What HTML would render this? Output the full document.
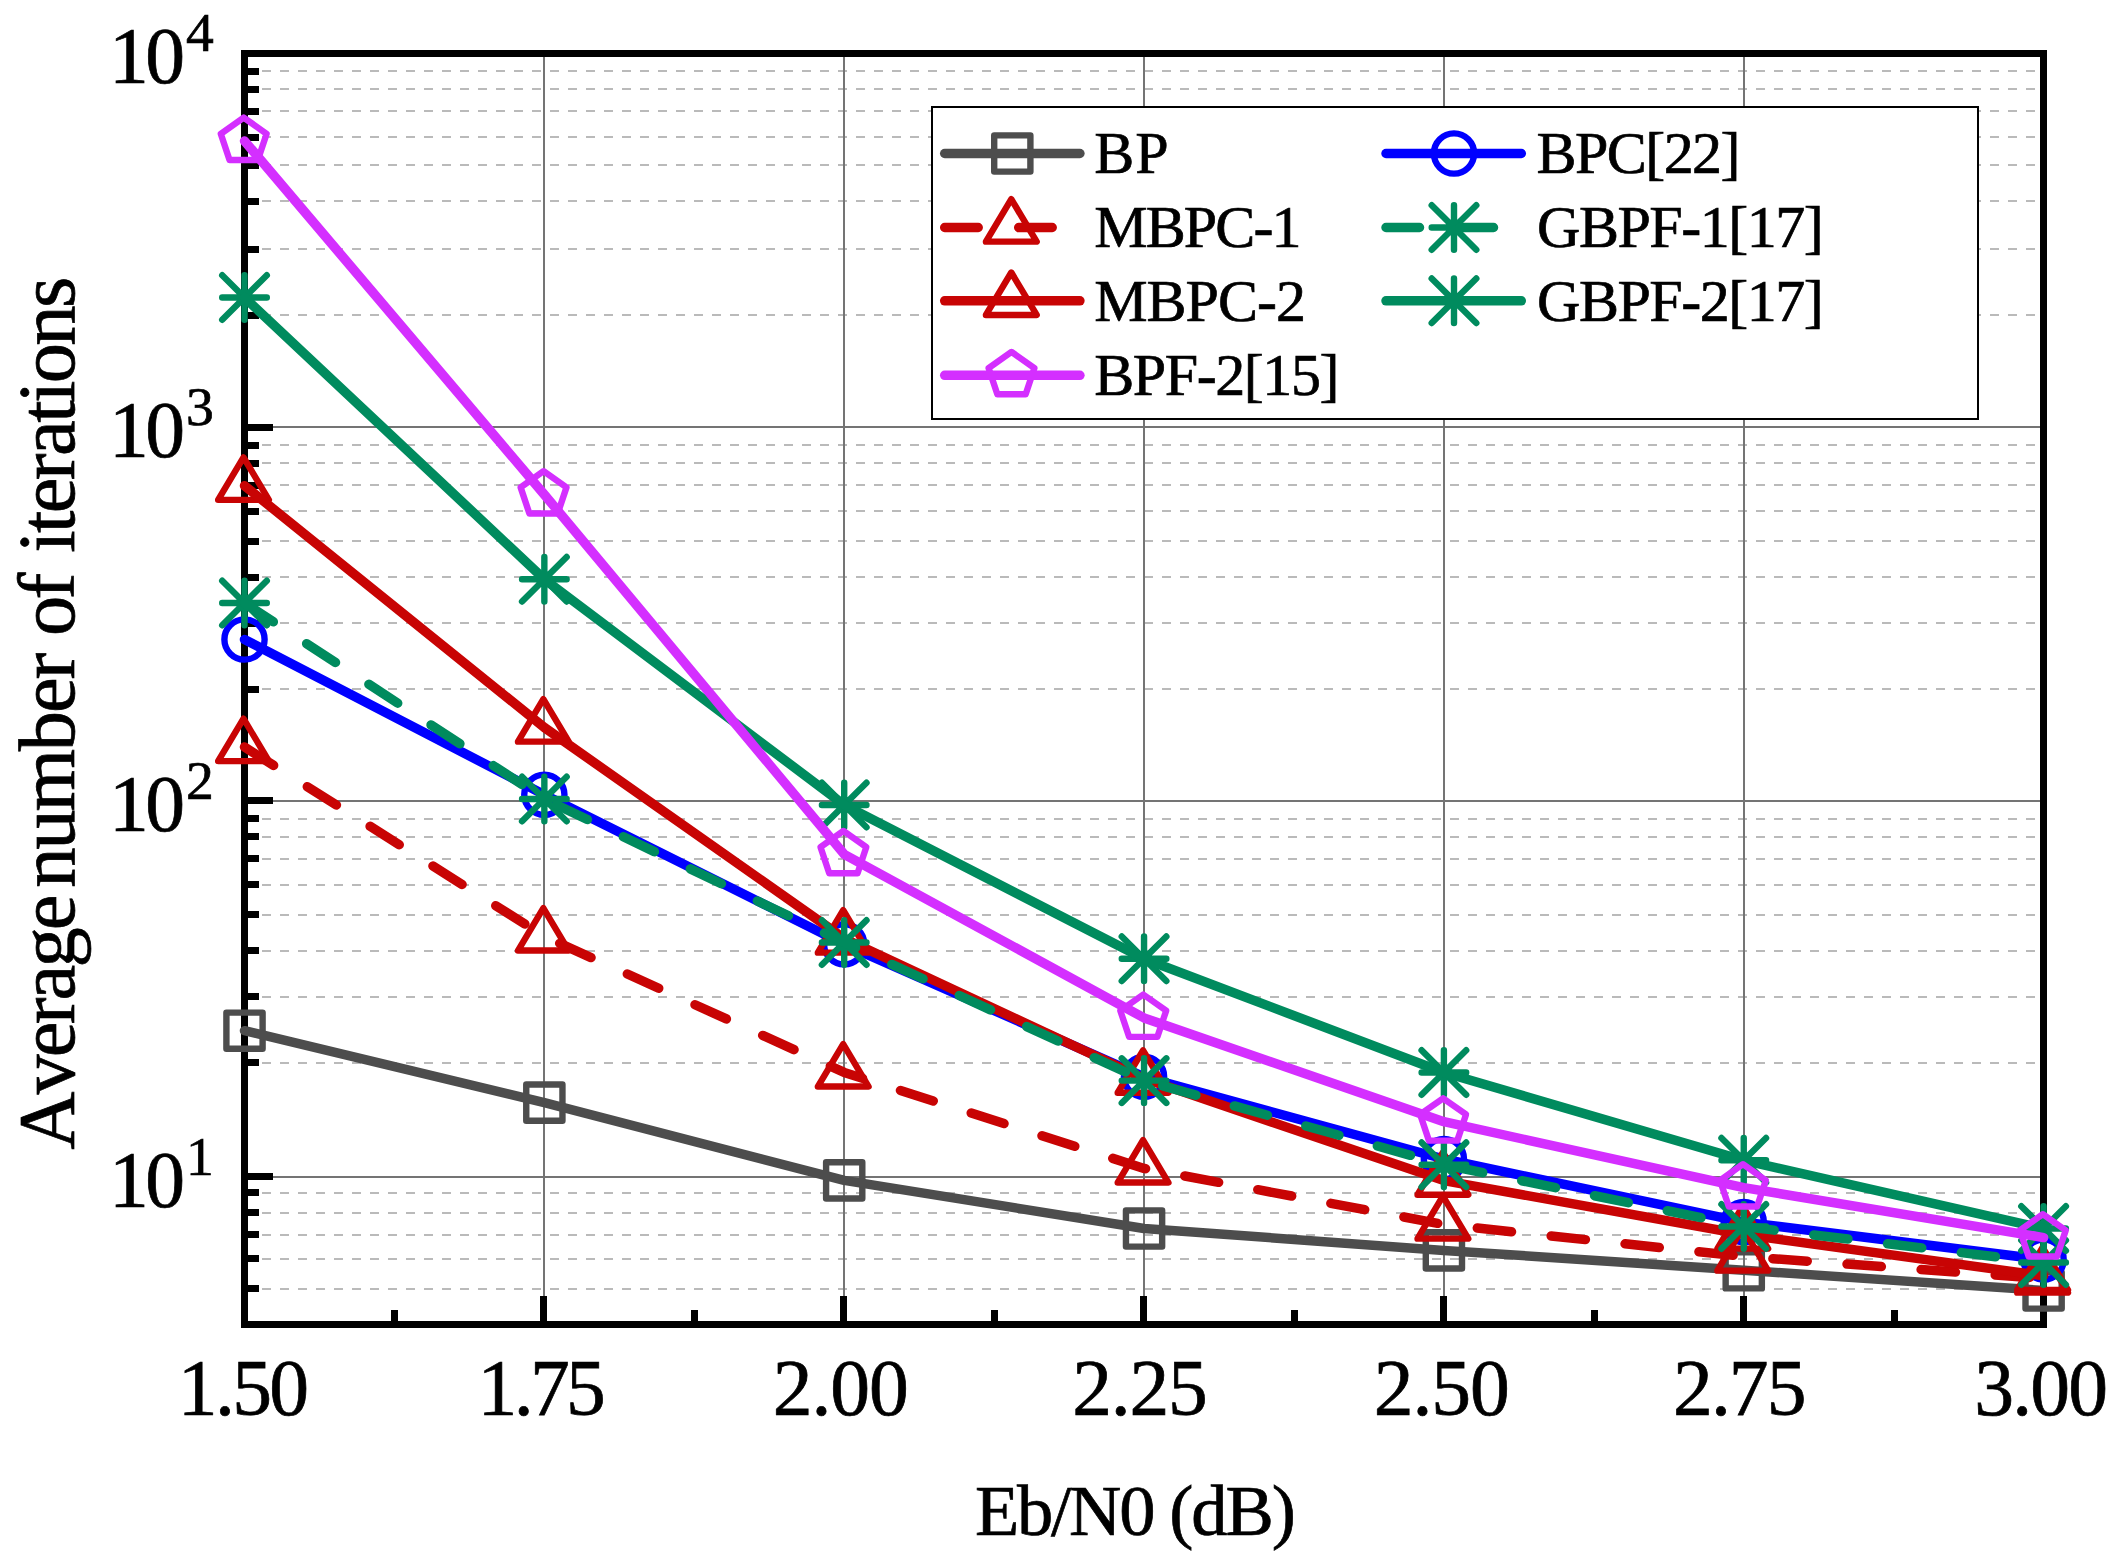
<!DOCTYPE html>
<html lang="en"><head><meta charset="utf-8"><title>Average number of iterations vs Eb/N0</title>
<style>html,body{margin:0;padding:0;background:#fff}body{width:2117px;height:1565px;overflow:hidden}svg{display:block}text{font-family:'Liberation Serif', serif;fill:#000;font-kerning:none;white-space:pre}</style></head><body>
<svg width="2117" height="1565" viewBox="0 0 2117 1565">
<rect width="2117" height="1565" fill="#fff"/>
<g stroke="#bababa" stroke-width="2" stroke-dasharray="9 9" shape-rendering="crispEdges">
<line x1="244" y1="71" x2="2043.5" y2="71"/>
<line x1="244" y1="89" x2="2043.5" y2="89"/>
<line x1="244" y1="111" x2="2043.5" y2="111"/>
<line x1="244" y1="137" x2="2043.5" y2="137"/>
<line x1="244" y1="165" x2="2043.5" y2="165"/>
<line x1="244" y1="201" x2="2043.5" y2="201"/>
<line x1="244" y1="249" x2="2043.5" y2="249"/>
<line x1="244" y1="315" x2="2043.5" y2="315"/>
<line x1="244" y1="445" x2="2043.5" y2="445"/>
<line x1="244" y1="463" x2="2043.5" y2="463"/>
<line x1="244" y1="485" x2="2043.5" y2="485"/>
<line x1="244" y1="511" x2="2043.5" y2="511"/>
<line x1="244" y1="541" x2="2043.5" y2="541"/>
<line x1="244" y1="577" x2="2043.5" y2="577"/>
<line x1="244" y1="623" x2="2043.5" y2="623"/>
<line x1="244" y1="689" x2="2043.5" y2="689"/>
<line x1="244" y1="819" x2="2043.5" y2="819"/>
<line x1="244" y1="837" x2="2043.5" y2="837"/>
<line x1="244" y1="859" x2="2043.5" y2="859"/>
<line x1="244" y1="885" x2="2043.5" y2="885"/>
<line x1="244" y1="915" x2="2043.5" y2="915"/>
<line x1="244" y1="951" x2="2043.5" y2="951"/>
<line x1="244" y1="997" x2="2043.5" y2="997"/>
<line x1="244" y1="1063" x2="2043.5" y2="1063"/>
<line x1="244" y1="1193" x2="2043.5" y2="1193"/>
<line x1="244" y1="1213" x2="2043.5" y2="1213"/>
<line x1="244" y1="1235" x2="2043.5" y2="1235"/>
<line x1="244" y1="1259" x2="2043.5" y2="1259"/>
<line x1="244" y1="1289" x2="2043.5" y2="1289"/>
</g>
<g stroke="#747474" stroke-width="2" shape-rendering="crispEdges">
<line x1="244" y1="427" x2="2043.5" y2="427"/>
<line x1="244" y1="801" x2="2043.5" y2="801"/>
<line x1="244" y1="1177" x2="2043.5" y2="1177"/>
<line x1="544" y1="53.5" x2="544" y2="1324.5"/>
<line x1="844" y1="53.5" x2="844" y2="1324.5"/>
<line x1="1144" y1="53.5" x2="1144" y2="1324.5"/>
<line x1="1444" y1="53.5" x2="1444" y2="1324.5"/>
<line x1="1744" y1="53.5" x2="1744" y2="1324.5"/>
</g>
<g stroke="#000" stroke-width="7" fill="none" shape-rendering="crispEdges">
<rect x="244.5" y="53.5" width="1799" height="1271"/>
<line x1="244.5" y1="427.5" x2="273" y2="427.5"/>
<line x1="244.5" y1="800.5" x2="273" y2="800.5"/>
<line x1="244.5" y1="1176.5" x2="273" y2="1176.5"/>
<line x1="244.5" y1="71.5" x2="259" y2="71.5"/>
<line x1="244.5" y1="89.5" x2="259" y2="89.5"/>
<line x1="244.5" y1="111.5" x2="259" y2="111.5"/>
<line x1="244.5" y1="137.5" x2="259" y2="137.5"/>
<line x1="244.5" y1="165.5" x2="259" y2="165.5"/>
<line x1="244.5" y1="201.5" x2="259" y2="201.5"/>
<line x1="244.5" y1="249.5" x2="259" y2="249.5"/>
<line x1="244.5" y1="315.5" x2="259" y2="315.5"/>
<line x1="244.5" y1="445.5" x2="259" y2="445.5"/>
<line x1="244.5" y1="463.5" x2="259" y2="463.5"/>
<line x1="244.5" y1="485.5" x2="259" y2="485.5"/>
<line x1="244.5" y1="511.5" x2="259" y2="511.5"/>
<line x1="244.5" y1="541.5" x2="259" y2="541.5"/>
<line x1="244.5" y1="577.5" x2="259" y2="577.5"/>
<line x1="244.5" y1="623.5" x2="259" y2="623.5"/>
<line x1="244.5" y1="689.5" x2="259" y2="689.5"/>
<line x1="244.5" y1="818.5" x2="259" y2="818.5"/>
<line x1="244.5" y1="836.5" x2="259" y2="836.5"/>
<line x1="244.5" y1="858.5" x2="259" y2="858.5"/>
<line x1="244.5" y1="884.5" x2="259" y2="884.5"/>
<line x1="244.5" y1="914.5" x2="259" y2="914.5"/>
<line x1="244.5" y1="950.5" x2="259" y2="950.5"/>
<line x1="244.5" y1="996.5" x2="259" y2="996.5"/>
<line x1="244.5" y1="1062.5" x2="259" y2="1062.5"/>
<line x1="244.5" y1="1192.5" x2="259" y2="1192.5"/>
<line x1="244.5" y1="1212.5" x2="259" y2="1212.5"/>
<line x1="244.5" y1="1234.5" x2="259" y2="1234.5"/>
<line x1="244.5" y1="1258.5" x2="259" y2="1258.5"/>
<line x1="244.5" y1="1288.5" x2="259" y2="1288.5"/>
<line x1="543.5" y1="1296" x2="543.5" y2="1324.5"/>
<line x1="843.5" y1="1296" x2="843.5" y2="1324.5"/>
<line x1="1143.5" y1="1296" x2="1143.5" y2="1324.5"/>
<line x1="1443.5" y1="1296" x2="1443.5" y2="1324.5"/>
<line x1="1743.5" y1="1296" x2="1743.5" y2="1324.5"/>
<line x1="394.5" y1="1310" x2="394.5" y2="1324.5"/>
<line x1="694.5" y1="1310" x2="694.5" y2="1324.5"/>
<line x1="994.5" y1="1310" x2="994.5" y2="1324.5"/>
<line x1="1294.5" y1="1310" x2="1294.5" y2="1324.5"/>
<line x1="1594.5" y1="1310" x2="1594.5" y2="1324.5"/>
<line x1="1894.5" y1="1310" x2="1894.5" y2="1324.5"/>
</g>
<rect x="932" y="107" width="1046" height="312" fill="#fff" stroke="#000" stroke-width="2" shape-rendering="crispEdges"/>
<g>
<rect x="226.4" y="1012.6" width="36.2" height="36.2" fill="none" stroke="#4d4d4d" stroke-width="6.4" stroke-linejoin="round" stroke-linecap="round"/>
<rect x="526.25" y="1084.5" width="36.2" height="36.2" fill="none" stroke="#4d4d4d" stroke-width="6.4" stroke-linejoin="round" stroke-linecap="round"/>
<rect x="826.1" y="1162.3" width="36.2" height="36.2" fill="none" stroke="#4d4d4d" stroke-width="6.4" stroke-linejoin="round" stroke-linecap="round"/>
<rect x="1125.95" y="1210.4" width="36.2" height="36.2" fill="none" stroke="#4d4d4d" stroke-width="6.4" stroke-linejoin="round" stroke-linecap="round"/>
<rect x="1425.8" y="1232.3" width="36.2" height="36.2" fill="none" stroke="#4d4d4d" stroke-width="6.4" stroke-linejoin="round" stroke-linecap="round"/>
<rect x="1725.65" y="1252.2" width="36.2" height="36.2" fill="none" stroke="#4d4d4d" stroke-width="6.4" stroke-linejoin="round" stroke-linecap="round"/>
<rect x="2025.5" y="1272.4" width="36.2" height="36.2" fill="none" stroke="#4d4d4d" stroke-width="6.4" stroke-linejoin="round" stroke-linecap="round"/>
<polyline points="244.5,1030.7 544.35,1102.6 844.2,1180.4 1144.05,1228.5 1443.9,1250.4 1743.75,1270.3 2043.6,1290.5" fill="none" stroke="#4d4d4d" stroke-width="9.5" stroke-linecap="round" stroke-linejoin="round"/>
</g>
<g>
<circle cx="244.5" cy="639.5" r="20.1" fill="none" stroke="#0000ff" stroke-width="6.4" stroke-linejoin="round" stroke-linecap="round"/>
<circle cx="544.35" cy="794.7" r="20.1" fill="none" stroke="#0000ff" stroke-width="6.4" stroke-linejoin="round" stroke-linecap="round"/>
<circle cx="844.2" cy="944.3" r="20.1" fill="none" stroke="#0000ff" stroke-width="6.4" stroke-linejoin="round" stroke-linecap="round"/>
<circle cx="1144.05" cy="1076.8" r="20.1" fill="none" stroke="#0000ff" stroke-width="6.4" stroke-linejoin="round" stroke-linecap="round"/>
<circle cx="1443.9" cy="1159" r="20.1" fill="none" stroke="#0000ff" stroke-width="6.4" stroke-linejoin="round" stroke-linecap="round"/>
<circle cx="1743.75" cy="1222.1" r="20.1" fill="none" stroke="#0000ff" stroke-width="6.4" stroke-linejoin="round" stroke-linecap="round"/>
<circle cx="2043.6" cy="1259.6" r="20.1" fill="none" stroke="#0000ff" stroke-width="6.4" stroke-linejoin="round" stroke-linecap="round"/>
<polyline points="244.5,639.5 544.35,794.7 844.2,944.3 1144.05,1076.8 1443.9,1159 1743.75,1222.1 2043.6,1259.6" fill="none" stroke="#0000ff" stroke-width="9.5" stroke-linecap="round" stroke-linejoin="round"/>
</g>
<g>
<polygon points="243.5,718.7 268.87,761.15 218.13,761.15" fill="none" stroke="#c80404" stroke-width="6.4" stroke-linejoin="round" stroke-linecap="round"/>
<polygon points="543.35,908.1 568.72,950.55 517.98,950.55" fill="none" stroke="#c80404" stroke-width="6.4" stroke-linejoin="round" stroke-linecap="round"/>
<polygon points="843.2,1044.1 868.57,1086.55 817.83,1086.55" fill="none" stroke="#c80404" stroke-width="6.4" stroke-linejoin="round" stroke-linecap="round"/>
<polygon points="1143.05,1140.1 1168.42,1182.55 1117.68,1182.55" fill="none" stroke="#c80404" stroke-width="6.4" stroke-linejoin="round" stroke-linecap="round"/>
<polygon points="1442.9,1196.2 1468.27,1238.65 1417.53,1238.65" fill="none" stroke="#c80404" stroke-width="6.4" stroke-linejoin="round" stroke-linecap="round"/>
<polygon points="1742.75,1228.2 1768.12,1270.65 1717.38,1270.65" fill="none" stroke="#c80404" stroke-width="6.4" stroke-linejoin="round" stroke-linecap="round"/>
<polygon points="2042.6,1250.2 2067.97,1292.65 2017.23,1292.65" fill="none" stroke="#c80404" stroke-width="6.4" stroke-linejoin="round" stroke-linecap="round"/>
<polyline points="244.5,747 544.35,936.4 844.2,1072.4 1144.05,1168.4 1443.9,1224.5 1743.75,1256.5 2043.6,1278.5" fill="none" stroke="#c80404" stroke-width="9.5" stroke-linecap="round" stroke-linejoin="round" stroke-dasharray="34.4 39.9"/>
</g>
<g>
<polygon points="243.5,457.4 268.87,499.85 218.13,499.85" fill="none" stroke="#c80404" stroke-width="6.4" stroke-linejoin="round" stroke-linecap="round"/>
<polygon points="543.35,699.2 568.72,741.65 517.98,741.65" fill="none" stroke="#c80404" stroke-width="6.4" stroke-linejoin="round" stroke-linecap="round"/>
<polygon points="843.2,910.2 868.57,952.65 817.83,952.65" fill="none" stroke="#c80404" stroke-width="6.4" stroke-linejoin="round" stroke-linecap="round"/>
<polygon points="1143.05,1050.3 1168.42,1092.75 1117.68,1092.75" fill="none" stroke="#c80404" stroke-width="6.4" stroke-linejoin="round" stroke-linecap="round"/>
<polygon points="1442.9,1152.3 1468.27,1194.75 1417.53,1194.75" fill="none" stroke="#c80404" stroke-width="6.4" stroke-linejoin="round" stroke-linecap="round"/>
<polygon points="1742.75,1206.2 1768.12,1248.65 1717.38,1248.65" fill="none" stroke="#c80404" stroke-width="6.4" stroke-linejoin="round" stroke-linecap="round"/>
<polygon points="2042.6,1247.5 2067.97,1289.95 2017.23,1289.95" fill="none" stroke="#c80404" stroke-width="6.4" stroke-linejoin="round" stroke-linecap="round"/>
<polyline points="244.5,485.7 544.35,727.5 844.2,938.5 1144.05,1078.6 1443.9,1180.6 1743.75,1234.5 2043.6,1275.8" fill="none" stroke="#c80404" stroke-width="9.5" stroke-linecap="round" stroke-linejoin="round"/>
</g>
<g>
<path d="M222.2 603H266.8M244.5 580.7V625.3M222.2 580.7L266.8 625.3M222.2 625.3L266.8 580.7" fill="none" stroke="#008b5e" stroke-width="6.4" stroke-linejoin="round" stroke-linecap="round"/>
<path d="M522.05 799H566.65M544.35 776.7V821.3M522.05 776.7L566.65 821.3M522.05 821.3L566.65 776.7" fill="none" stroke="#008b5e" stroke-width="6.4" stroke-linejoin="round" stroke-linecap="round"/>
<path d="M821.9 942.5H866.5M844.2 920.2V964.8M821.9 920.2L866.5 964.8M821.9 964.8L866.5 920.2" fill="none" stroke="#008b5e" stroke-width="6.4" stroke-linejoin="round" stroke-linecap="round"/>
<path d="M1121.75 1080.6H1166.35M1144.05 1058.3V1102.9M1121.75 1058.3L1166.35 1102.9M1121.75 1102.9L1166.35 1058.3" fill="none" stroke="#008b5e" stroke-width="6.4" stroke-linejoin="round" stroke-linecap="round"/>
<path d="M1421.6 1164.7H1466.2M1443.9 1142.4V1187M1421.6 1142.4L1466.2 1187M1421.6 1187L1466.2 1142.4" fill="none" stroke="#008b5e" stroke-width="6.4" stroke-linejoin="round" stroke-linecap="round"/>
<path d="M1721.45 1226.5H1766.05M1743.75 1204.2V1248.8M1721.45 1204.2L1766.05 1248.8M1721.45 1248.8L1766.05 1204.2" fill="none" stroke="#008b5e" stroke-width="6.4" stroke-linejoin="round" stroke-linecap="round"/>
<path d="M2021.3 1262.5H2065.9M2043.6 1240.2V1284.8M2021.3 1240.2L2065.9 1284.8M2021.3 1284.8L2065.9 1240.2" fill="none" stroke="#008b5e" stroke-width="6.4" stroke-linejoin="round" stroke-linecap="round"/>
<polyline points="244.5,603 544.35,799 844.2,942.5 1144.05,1080.6 1443.9,1164.7 1743.75,1226.5 2043.6,1262.5" fill="none" stroke="#008b5e" stroke-width="9.5" stroke-linecap="round" stroke-linejoin="round" stroke-dasharray="34.4 39.9"/>
</g>
<g>
<path d="M222.2 297.5H266.8M244.5 275.2V319.8M222.2 275.2L266.8 319.8M222.2 319.8L266.8 275.2" fill="none" stroke="#008b5e" stroke-width="6.4" stroke-linejoin="round" stroke-linecap="round"/>
<path d="M522.05 579.2H566.65M544.35 556.9V601.5M522.05 556.9L566.65 601.5M522.05 601.5L566.65 556.9" fill="none" stroke="#008b5e" stroke-width="6.4" stroke-linejoin="round" stroke-linecap="round"/>
<path d="M821.9 805H866.5M844.2 782.7V827.3M821.9 782.7L866.5 827.3M821.9 827.3L866.5 782.7" fill="none" stroke="#008b5e" stroke-width="6.4" stroke-linejoin="round" stroke-linecap="round"/>
<path d="M1121.75 958.7H1166.35M1144.05 936.4V981M1121.75 936.4L1166.35 981M1121.75 981L1166.35 936.4" fill="none" stroke="#008b5e" stroke-width="6.4" stroke-linejoin="round" stroke-linecap="round"/>
<path d="M1421.6 1072.5H1466.2M1443.9 1050.2V1094.8M1421.6 1050.2L1466.2 1094.8M1421.6 1094.8L1466.2 1050.2" fill="none" stroke="#008b5e" stroke-width="6.4" stroke-linejoin="round" stroke-linecap="round"/>
<path d="M1721.45 1160.3H1766.05M1743.75 1138V1182.6M1721.45 1138L1766.05 1182.6M1721.45 1182.6L1766.05 1138" fill="none" stroke="#008b5e" stroke-width="6.4" stroke-linejoin="round" stroke-linecap="round"/>
<path d="M2021.3 1228.5H2065.9M2043.6 1206.2V1250.8M2021.3 1206.2L2065.9 1250.8M2021.3 1250.8L2065.9 1206.2" fill="none" stroke="#008b5e" stroke-width="6.4" stroke-linejoin="round" stroke-linecap="round"/>
<polyline points="244.5,297.5 544.35,579.2 844.2,805 1144.05,958.7 1443.9,1072.5 1743.75,1160.3 2043.6,1228.5" fill="none" stroke="#008b5e" stroke-width="9.5" stroke-linecap="round" stroke-linejoin="round"/>
</g>
<g>
<polygon points="243.7,117.6 266.62,133.77 257.87,159.93 229.53,159.93 220.78,133.77" fill="none" stroke="#d42fff" stroke-width="6.4" stroke-linejoin="round" stroke-linecap="round"/>
<polygon points="543.55,471.2 566.47,487.37 557.72,513.53 529.38,513.53 520.63,487.37" fill="none" stroke="#d42fff" stroke-width="6.4" stroke-linejoin="round" stroke-linecap="round"/>
<polygon points="843.4,830.9 866.32,847.07 857.57,873.23 829.23,873.23 820.48,847.07" fill="none" stroke="#d42fff" stroke-width="6.4" stroke-linejoin="round" stroke-linecap="round"/>
<polygon points="1143.25,994.5 1166.17,1010.67 1157.42,1036.83 1129.08,1036.83 1120.33,1010.67" fill="none" stroke="#d42fff" stroke-width="6.4" stroke-linejoin="round" stroke-linecap="round"/>
<polygon points="1443.1,1098.3 1466.02,1114.47 1457.27,1140.63 1428.93,1140.63 1420.18,1114.47" fill="none" stroke="#d42fff" stroke-width="6.4" stroke-linejoin="round" stroke-linecap="round"/>
<polygon points="1742.95,1164.2 1765.87,1180.37 1757.12,1206.53 1728.78,1206.53 1720.03,1180.37" fill="none" stroke="#d42fff" stroke-width="6.4" stroke-linejoin="round" stroke-linecap="round"/>
<polygon points="2042.8,1214.2 2065.72,1230.37 2056.97,1256.53 2028.63,1256.53 2019.88,1230.37" fill="none" stroke="#d42fff" stroke-width="6.4" stroke-linejoin="round" stroke-linecap="round"/>
<polyline points="244.5,141 544.35,494.6 844.2,854.3 1144.05,1017.9 1443.9,1121.7 1743.75,1187.6 2043.6,1237.6" fill="none" stroke="#d42fff" stroke-width="9.5" stroke-linecap="round" stroke-linejoin="round"/>
</g>
<rect x="994.2" y="135.4" width="36.2" height="36.2" fill="none" stroke="#4d4d4d" stroke-width="6.4" stroke-linejoin="round" stroke-linecap="round"/>
<line x1="944.7" y1="153.5" x2="1079.9" y2="153.5" stroke="#4d4d4d" stroke-width="9.5" stroke-linecap="round"/>
<text x="1094.27" y="172.9" font-size="60" letter-spacing="0.84" stroke="#000" stroke-width="0.7">BP</text>
<polygon points="1011.3,199.2 1036.67,241.65 985.93,241.65" fill="none" stroke="#c80404" stroke-width="6.4" stroke-linejoin="round" stroke-linecap="round"/>
<line x1="944.7" y1="227.5" x2="1079.9" y2="227.5" stroke="#c80404" stroke-width="9.5" stroke-linecap="round" stroke-dasharray="33.5 40.5"/>
<text x="1094.27" y="247.3" font-size="60" letter-spacing="-1.9" stroke="#000" stroke-width="0.7">MBPC-1</text>
<polygon points="1011.3,272.5 1036.67,314.95 985.93,314.95" fill="none" stroke="#c80404" stroke-width="6.4" stroke-linejoin="round" stroke-linecap="round"/>
<line x1="944.7" y1="300.8" x2="1079.9" y2="300.8" stroke="#c80404" stroke-width="9.5" stroke-linecap="round"/>
<text x="1094.27" y="320.6" font-size="60" letter-spacing="-1.02" stroke="#000" stroke-width="0.7">MBPC-2</text>
<polygon points="1011.5,351.9 1034.42,368.07 1025.67,394.23 997.33,394.23 988.58,368.07" fill="none" stroke="#d42fff" stroke-width="6.4" stroke-linejoin="round" stroke-linecap="round"/>
<line x1="944.7" y1="375.3" x2="1079.9" y2="375.3" stroke="#d42fff" stroke-width="9.5" stroke-linecap="round"/>
<text x="1094.27" y="395" font-size="60" letter-spacing="-1.44" stroke="#000" stroke-width="0.7">BPF-2[15]</text>
<circle cx="1454" cy="153.5" r="20.1" fill="none" stroke="#0000ff" stroke-width="6.4" stroke-linejoin="round" stroke-linecap="round"/>
<line x1="1386" y1="153.5" x2="1521.3" y2="153.5" stroke="#0000ff" stroke-width="9.5" stroke-linecap="round"/>
<text x="1536.57" y="172.9" font-size="60" letter-spacing="-1.58" stroke="#000" stroke-width="0.7">BPC[22]</text>
<path d="M1431.7 227.5H1476.3M1454 205.2V249.8M1431.7 205.2L1476.3 249.8M1431.7 249.8L1476.3 205.2" fill="none" stroke="#008b5e" stroke-width="6.4" stroke-linejoin="round" stroke-linecap="round"/>
<line x1="1386" y1="227.5" x2="1521.3" y2="227.5" stroke="#008b5e" stroke-width="9.5" stroke-linecap="round" stroke-dasharray="33.5 40.5"/>
<text x="1537.04" y="247.3" font-size="60" letter-spacing="-1.47" stroke="#000" stroke-width="0.7">GBPF-1[17]</text>
<path d="M1431.7 300.8H1476.3M1454 278.5V323.1M1431.7 278.5L1476.3 323.1M1431.7 323.1L1476.3 278.5" fill="none" stroke="#008b5e" stroke-width="6.4" stroke-linejoin="round" stroke-linecap="round"/>
<line x1="1386" y1="300.8" x2="1521.3" y2="300.8" stroke="#008b5e" stroke-width="9.5" stroke-linecap="round"/>
<text x="1537.04" y="320.6" font-size="60" letter-spacing="-1.47" stroke="#000" stroke-width="0.7">GBPF-2[17]</text>
<text x="177.8" y="1415.2" font-size="79.6" letter-spacing="-2.66" stroke="#000" stroke-width="0.7">1.50</text>
<text x="477.5" y="1415.2" font-size="79.6" letter-spacing="-3.63" stroke="#000" stroke-width="0.7">1.75</text>
<text x="772.7" y="1415.2" font-size="79.6" letter-spacing="-1.02" stroke="#000" stroke-width="0.7">2.00</text>
<text x="1072.2" y="1415.2" font-size="79.6" letter-spacing="-1.23" stroke="#000" stroke-width="0.7">2.25</text>
<text x="1373.7" y="1415.2" font-size="79.6" letter-spacing="-1.06" stroke="#000" stroke-width="0.7">2.50</text>
<text x="1673.1" y="1415.2" font-size="79.6" letter-spacing="-1.96" stroke="#000" stroke-width="0.7">2.75</text>
<text x="1974.19" y="1415.2" font-size="79.6" letter-spacing="-1.82" stroke="#000" stroke-width="0.7">3.00</text>
<text x="108.9" y="83" font-size="79.6" letter-spacing="-3.47" stroke="#000" stroke-width="0.7">10</text>
<text x="186" y="50.9" font-size="55.6" stroke="#000" stroke-width="0.7">4</text>
<text x="108.9" y="457" font-size="79.6" letter-spacing="-3.47" stroke="#000" stroke-width="0.7">10</text>
<text x="186" y="424.9" font-size="55.6" stroke="#000" stroke-width="0.7">3</text>
<text x="108.9" y="831" font-size="79.6" letter-spacing="-3.47" stroke="#000" stroke-width="0.7">10</text>
<text x="186" y="798.9" font-size="55.6" stroke="#000" stroke-width="0.7">2</text>
<text x="108.9" y="1207" font-size="79.6" letter-spacing="-3.47" stroke="#000" stroke-width="0.7">10</text>
<text x="186" y="1174.9" font-size="55.6" stroke="#000" stroke-width="0.7">1</text>
<text x="974.91" y="1535.2" font-size="72.5" letter-spacing="-2.16" stroke="#000" stroke-width="0.7">Eb/N0 (dB)</text>
<text transform="translate(73.6 1149) rotate(-90)" font-size="80.5" stroke="#000" stroke-width="0.7"><tspan x="-0.79" letter-spacing="-2.89">Average </tspan><tspan x="261.25" letter-spacing="-2.17">number </tspan><tspan x="513.03" letter-spacing="-3.89">of </tspan><tspan x="596.21" letter-spacing="-2.61">iterations</tspan></text>
</svg></body></html>
